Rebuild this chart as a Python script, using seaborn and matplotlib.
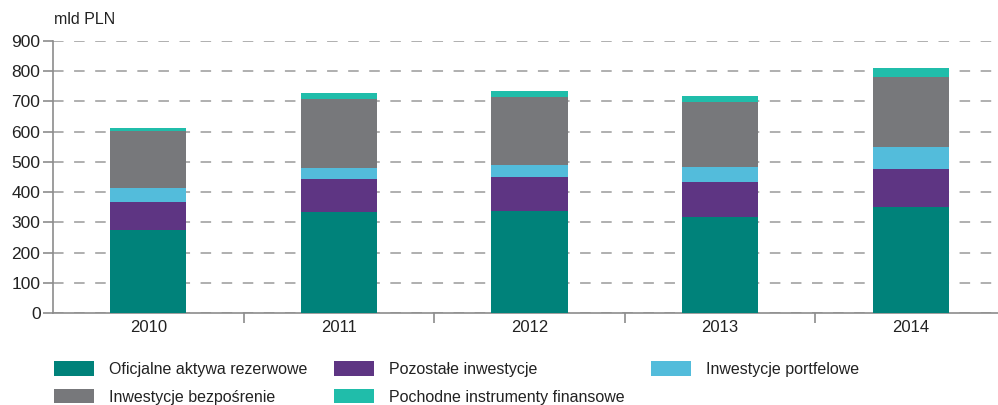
import matplotlib
matplotlib.use("Agg")
import matplotlib.pyplot as plt
import seaborn as sns
import numpy as np
import pandas as pd
from matplotlib.patches import Patch
from matplotlib.ticker import FixedLocator

years = ["2010", "2011", "2012", "2013", "2014"]
oficjalne = [275, 334, 337, 318, 351]
pozostale = [92, 109, 113, 115, 126]
portfelowe = [47, 37, 40, 50, 72]
bezposrednie = [187, 228, 225, 215, 232]
pochodne = [12, 20, 20, 20, 30]

series_names = ["Oficjalne aktywa rezerwowe", "Pozostałe inwestycje", "Inwestycje portfelowe",
                "Inwestycje bezpośrenie", "Pochodne instrumenty finansowe"]
series_vals = [oficjalne, pozostale, portfelowe, bezposrednie, pochodne]
colors = ["#00827A", "#5E3583", "#53BCDB", "#77787B", "#20BDAA"]
yticks = [0, 100, 200, 300, 400, 500, 600, 700, 800, 900]

sns.set_style("white")
plt.rcParams['font.family'] = ['Liberation Sans Narrow', 'Liberation Sans', 'DejaVu Sans']

fig = plt.figure(figsize=(9.98, 4.05), dpi=100)
ax = fig.add_axes([53/998, 92/405, 953/998, 272/405])

cum = np.cumsum(np.array(series_vals), axis=0)
for i in range(len(series_names) - 1, -1, -1):
    d = pd.DataFrame({"year": years, "value": cum[i]})
    sns.barplot(data=d, x="year", y="value", color=colors[i], width=0.4,
                saturation=1, ax=ax, zorder=3, linewidth=0)

ax.set_xlim(-0.5, 4.5)
ax.set_ylim(0, 900)
ax.set_yticks(yticks)
ax.set_xlabel("")
ax.set_ylabel("")
ax.yaxis.grid(True, color="#9a9a9a", linewidth=1.1, linestyle=(0, (6.9, 6.9)), zorder=0)
ax.xaxis.grid(False)
ax.set_axisbelow(True)

for s in ["top", "right"]:
    ax.spines[s].set_visible(False)
for s in ["left", "bottom"]:
    ax.spines[s].set_color("#8c8c8c")
    ax.spines[s].set_linewidth(1.2)

ax.tick_params(axis="y", which="major", length=7, width=1.2, color="#8c8c8c",
               labelsize=12.5, labelcolor="#222222", pad=2, left=True)
ax.tick_params(axis="x", which="major", length=0, labelsize=12, labelcolor="#222222", pad=5)
ax.xaxis.set_minor_locator(FixedLocator([0.5, 1.5, 2.5, 3.5]))
ax.tick_params(axis="x", which="minor", length=7, width=1.2, color="#8c8c8c", bottom=True)

fig.text(54/998, 1 - 19/405, "mld PLN", fontsize=11.5, color="#222222", va="center", ha="left")

order = [0, 3, 1, 4, 2]
handles = [Patch(facecolor=colors[i], edgecolor="none") for i in order]
labels = [series_names[i] for i in order]
fig.legend(handles, labels, loc="upper left", bbox_to_anchor=(48/998, 1 - 355/405),
           ncol=3, frameon=False, fontsize=11.5, handlelength=2.5, handleheight=1.0,
           handletextpad=0.9, labelspacing=0.75, columnspacing=1.7, borderaxespad=0,
           labelcolor="#222222")

fig.savefig("out.png", dpi=100)
